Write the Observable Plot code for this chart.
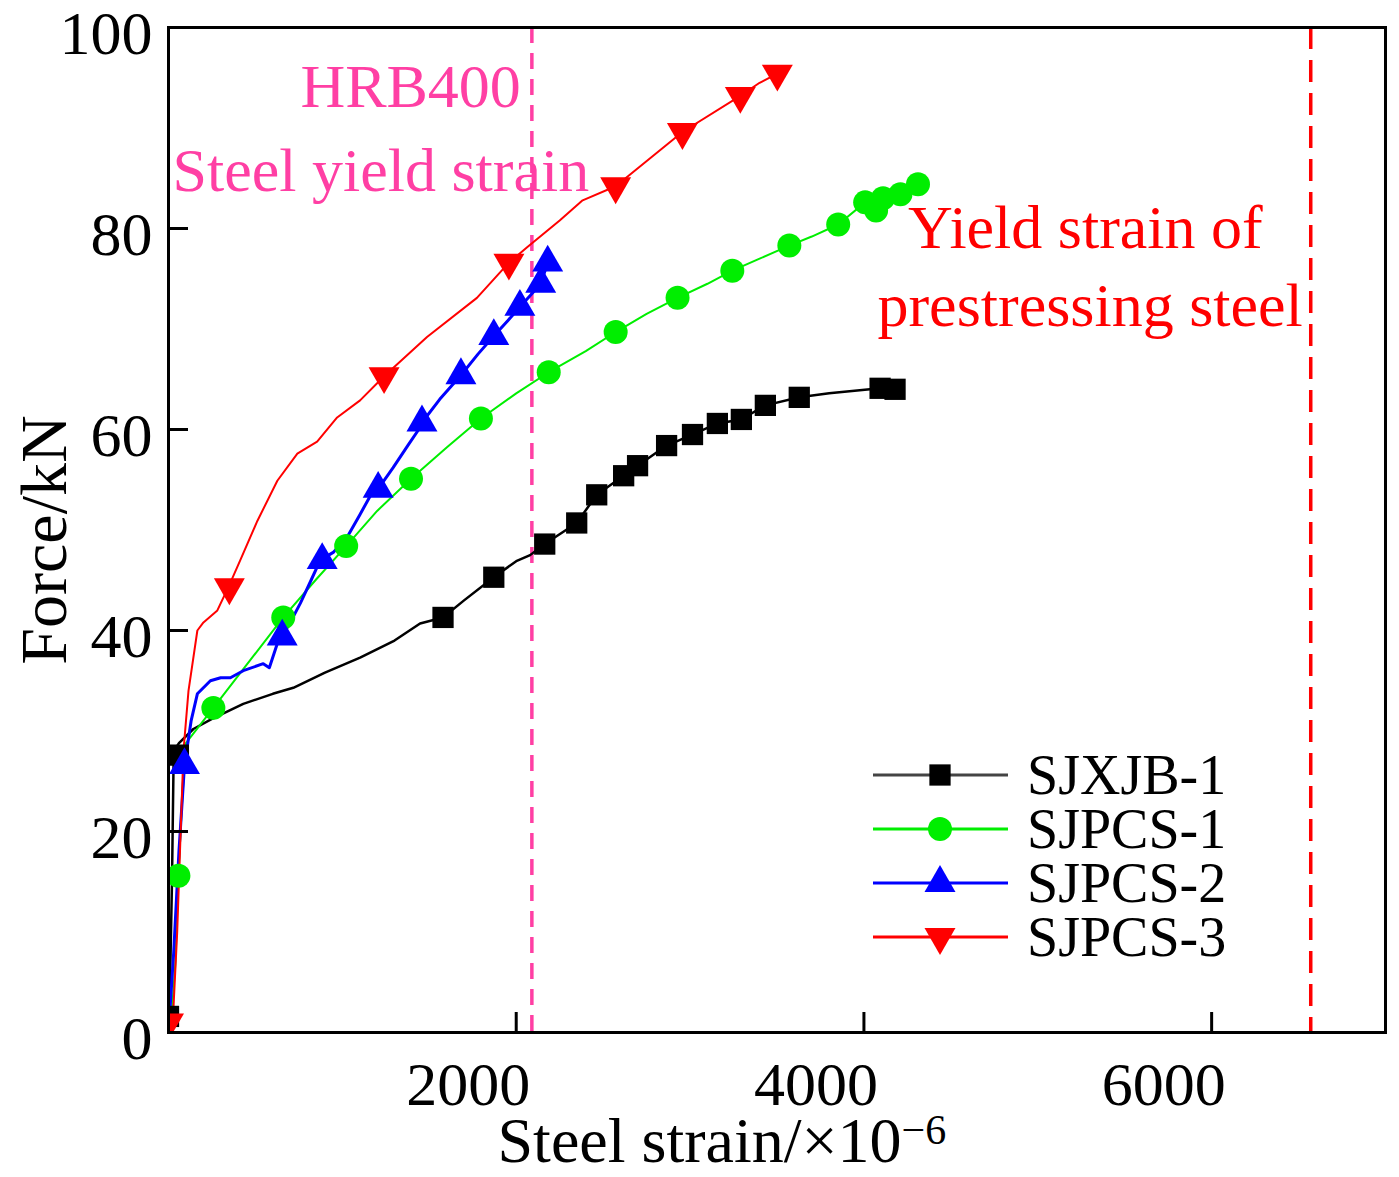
<!DOCTYPE html>
<html><head><meta charset="utf-8">
<script src="https://cdn.jsdelivr.net/npm/d3@7"></script>
<script src="https://cdn.jsdelivr.net/npm/@observablehq/plot@0.6"></script>
<style>
body{margin:0;background:#fff;}
#wrap{position:relative;width:1399px;height:1177px;font-family:"Liberation Serif","Times New Roman",serif;}
#legend{position:absolute;left:873px;top:748px;}
.row{display:flex;align-items:center;height:54px;}
.row span{font-size:56px;margin-left:19px;line-height:48px;color:#000;}
</style></head><body><div id="wrap"></div>
<script>
// ---- series meta ----
const seriesNames = ["SJXJB-1", "SJPCS-1", "SJPCS-2", "SJPCS-3"];
const seriesColors = ["#000000", "#00ee00", "#0000ff", "#ff0000"];

// ---- yield strains (×10^-6) ----
const hrbYield = 2090;
const prestressYield = 6570;

// ---- tick values ----
const xTicks = [2000, 4000, 6000];
const yTicks = [0, 20, 40, 60, 80, 100];

// ---- SJXJB-1 (black) ----
const sjxjb1Strain = [0, 5, 20, 30, 60, 143, 250, 430, 600, 718, 900, 1102, 1300, 1447, 1579, 1700, 1871, 2000, 2080, 2164, 2348, 2463, 2618, 2698, 2865, 3014, 3157, 3295, 3433, 3628, 3800, 4093, 4179];
const sjxjb1Force  = [0, 1.6, 15, 28, 28.8, 30.2, 31.2, 32.7, 33.7, 34.3, 35.8, 37.3, 39.0, 40.7, 41.3, 43.0, 45.3, 46.9, 47.5, 48.6, 50.7, 53.5, 55.4, 56.4, 58.4, 59.5, 60.6, 61.0, 62.4, 63.2, 63.6, 64.1, 64.0];
const sjxjb1MarkStrain = [0, 57, 1579, 1871, 2164, 2348, 2463, 2618, 2698, 2865, 3014, 3157, 3295, 3433, 3628, 4093, 4179];
const sjxjb1MarkForce  = [1.6, 27.6, 41.3, 45.3, 48.6, 50.7, 53.5, 55.4, 56.4, 58.4, 59.5, 60.6, 61.0, 62.4, 63.2, 64.1, 64.0];

// ---- SJPCS-1 (green) ----
const sjpcs1Strain = [0, 15, 40, 57, 75, 100, 258, 450, 660, 850, 1022, 1200, 1395, 1600, 1797, 2000, 2187, 2400, 2572, 2750, 2928, 3100, 3243, 3400, 3571, 3700, 3852, 4007, 4070, 4110, 4210, 4311];
const sjpcs1Force  = [0, 1, 7, 15.6, 22, 28.8, 32.3, 36.6, 41.3, 45.1, 48.4, 51.9, 55.1, 58.2, 61.1, 63.6, 65.7, 67.8, 69.7, 71.5, 73.1, 74.5, 75.8, 77.0, 78.3, 79.2, 80.4, 82.6, 81.8, 83.0, 83.4, 84.4];
const sjpcs1MarkStrain = [57, 258, 660, 1022, 1395, 1797, 2187, 2572, 2928, 3243, 3571, 3852, 4007, 4070, 4110, 4210, 4311];
const sjpcs1MarkForce  = [15.6, 32.3, 41.3, 48.4, 55.1, 61.1, 65.7, 69.7, 73.1, 75.8, 78.3, 80.4, 82.6, 81.8, 83.0, 83.4, 84.4];

// ---- SJPCS-2 (blue) ----
const sjpcs2Strain = [0, 30, 60, 92, 130, 166, 241, 300, 356, 430, 545, 580, 626, 700, 758, 820, 873, 950, 1028, 1100, 1177, 1206, 1292, 1380, 1447, 1458, 1560, 1682, 1780, 1871, 1950, 2021, 2090, 2141, 2181];
const sjpcs2Force  = [0, 8, 18, 26.6, 31, 33.7, 35.0, 35.3, 35.3, 36.0, 36.7, 36.3, 38.7, 40.8, 42.7, 45.0, 47.0, 47.8, 49.3, 51.5, 53.9, 54.1, 56.2, 58.5, 60.2, 60.7, 63.0, 65.4, 67.5, 69.3, 70.8, 72.2, 73.5, 74.5, 76.6];
const sjpcs2MarkStrain = [92, 654, 884, 1206, 1458, 1682, 1871, 2021, 2141, 2181];
const sjpcs2MarkForce  = [26.6, 39.4, 47.0, 54.1, 60.7, 65.4, 69.3, 72.2, 74.5, 76.6];

// ---- SJPCS-3 (red) ----
const sjpcs3Strain = [0, 23, 50, 86, 115, 166, 201, 281, 344, 413, 511, 626, 741, 855, 970, 1102, 1240, 1487, 1774, 1958, 2061, 2250, 2382, 2572, 2956, 3289, 3400, 3502];
const sjpcs3Force  = [0, 0.5, 10, 28, 34, 40, 40.8, 42, 44.3, 47.0, 50.9, 54.9, 57.6, 58.8, 61.2, 62.9, 65.3, 69.2, 73.1, 76.6, 78.1, 80.8, 82.8, 84.2, 89.6, 93.2, 94.5, 95.4];
const sjpcs3MarkStrain = [0, 350, 1240, 1958, 2572, 2956, 3289, 3502];
const sjpcs3MarkForce  = [1.0, 44.3, 65.3, 76.6, 84.2, 89.6, 93.2, 95.4];

const toRows = (xs, ys) => xs.map((x, i) => ({strain: x, force: ys[i]}));

const curves = [
  toRows(sjxjb1Strain, sjxjb1Force),
  toRows(sjpcs1Strain, sjpcs1Force),
  toRows(sjpcs2Strain, sjpcs2Force),
  toRows(sjpcs3Strain, sjpcs3Force)
];
const markers = [
  toRows(sjxjb1MarkStrain, sjxjb1MarkForce),
  toRows(sjpcs1MarkStrain, sjpcs1MarkForce),
  toRows(sjpcs2MarkStrain, sjpcs2MarkForce),
  toRows(sjpcs3MarkStrain, sjpcs3MarkForce)
];

const lineWidths = [2.5, 2, 3, 2];
const symbols = ["square", "circle", "triangle", "triangle"];
const radii = [12, 12, 11.5, 11.5];
const rotations = [0, 0, 0, 180];
const pink = "#ff3fa4";

const marks = [
  Plot.ruleX([hrbYield], {stroke: pink, strokeWidth: 3.5, strokeDasharray: "16,10"}),
  Plot.ruleX([prestressYield], {stroke: "#ff0000", strokeWidth: 3.5, strokeDasharray: "22,11"})
];
curves.forEach((c, i) => {
  marks.push(Plot.line(c, {x: "strain", y: "force", stroke: seriesColors[i], strokeWidth: lineWidths[i], curve: "linear"}));
});
markers.forEach((m, i) => {
  marks.push(Plot.dot(m, {x: "strain", y: "force", symbol: symbols[i], r: radii[i], fill: seriesColors[i], stroke: "none", rotate: rotations[i], clip: true}));
});

marks.push(
  // annotations
  Plot.text(["HRB400"], {x: hrbYield, y: 94.1, text: d => d, textAnchor: "end", dx: -11, fill: pink, fontSize: 62}),
  Plot.text(["Steel yield strain"], {x: 0, y: 85.7, text: d => d, textAnchor: "start", dx: 4, fill: pink, fontSize: 62}),
  Plot.text(["Yield strain of"], {x: prestressYield, y: 80.0, text: d => d, textAnchor: "end", dx: -48, fill: "#ff0000", fontSize: 62}),
  Plot.text(["prestressing steel"], {x: prestressYield, y: 72.3, text: d => d, textAnchor: "end", dx: -8, fill: "#ff0000", fontSize: 62}),
  // axes: inward ticks
  Plot.axisY(yTicks, {tickSize: -20, strokeWidth: 3, tickFormat: () => "", label: null}),
  Plot.axisX(xTicks, {tickSize: -20, strokeWidth: 3, tickFormat: () => "", label: null}),
  // axes: tick labels
  Plot.axisY(yTicks, {tickSize: 0, tickPadding: 16, fontSize: 62, dy: 7, tickFormat: d3.format("d"), label: null}),
  Plot.axisX(xTicks, {tickSize: 0, tickPadding: 28, fontSize: 62, dx: -48, tickFormat: d3.format("d"), label: null}),
  // axis titles
  Plot.text(["Force/kN"], {frameAnchor: "left", text: d => d, rotate: -90, textAnchor: "middle", dx: -124, dy: 10, fontSize: 66}),
  Plot.text(["Steel strain/×10"], {frameAnchor: "bottom-left", text: d => d, textAnchor: "start", dx: 329, dy: 129, fontSize: 64}),
  Plot.frame({strokeWidth: 3})
);

const chart = Plot.plot({
  width: 1399,
  height: 1177,
  marginLeft: 168,
  marginRight: 14,
  marginTop: 27,
  marginBottom: 145,
  x: {domain: [0, 7000]},
  y: {domain: [0, 100]},
  style: {fontFamily: '"Liberation Serif", "Times New Roman", serif', background: "white", color: "black"},
  marks
});
document.getElementById("wrap").appendChild(chart);

// superscript exponent on x title
d3.select(chart).selectAll("text")
  .filter(function () { return this.textContent === "Steel strain/×10"; })
  .append("tspan").attr("dy", "-0.42em").attr("font-size", "42px").text("−6");

// legend (inside plot area)
const legend = d3.select("#wrap").append("div").attr("id", "legend");
const d3Symbols = [d3.symbolSquare, d3.symbolCircle, d3.symbolTriangle, d3.symbolTriangle];
seriesNames.forEach((name, i) => {
  const row = legend.append("div").attr("class", "row");
  const svg = row.append("svg").attr("width", 135).attr("height", 54);
  svg.append("line").attr("x1", 0).attr("x2", 135).attr("y1", 27).attr("y2", 27)
    .attr("stroke", i === 0 ? "#444" : seriesColors[i]).attr("stroke-width", 3);
  svg.append("path")
    .attr("transform", `translate(67,27) rotate(${rotations[i]})`)
    .attr("d", d3.symbol(d3Symbols[i], Math.PI * radii[i] * radii[i])())
    .attr("fill", seriesColors[i]);
  row.append("span").text(name);
});
</script>
</body></html>
